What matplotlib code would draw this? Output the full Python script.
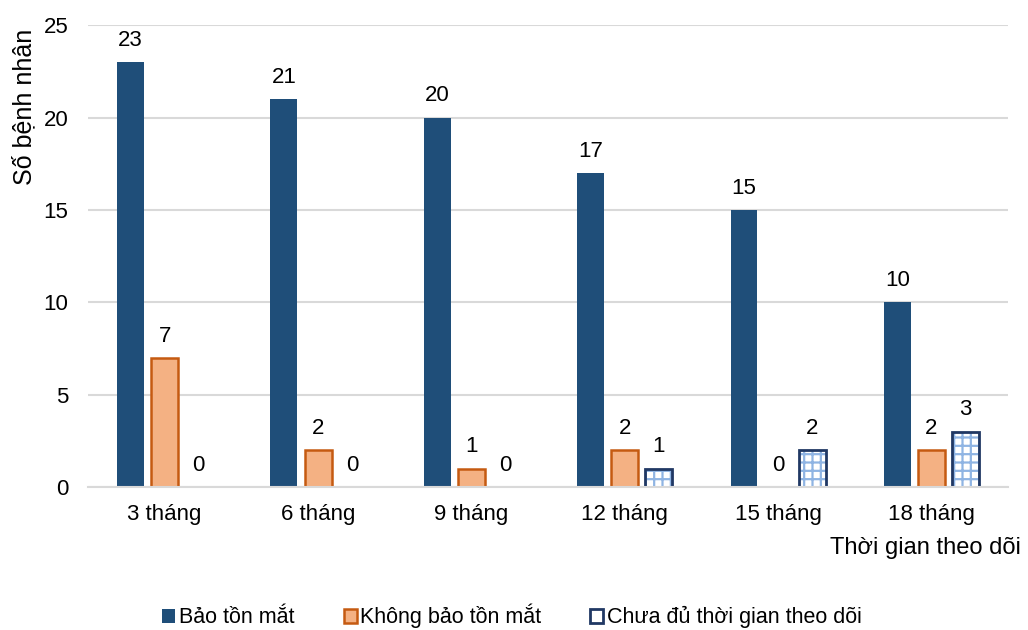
import numpy as np
import matplotlib.pyplot as plt
from matplotlib.patches import Patch

plt.rcParams['font.family'] = ['Liberation Sans', 'DejaVu Sans']

# ----- data ----- #
categories = ["3 tháng", "6 tháng", "9 tháng", "12 tháng", "15 tháng", "18 tháng"]
bao_ton    = [23, 21, 20, 17, 15, 10]
khong_bt   = [7, 2, 1, 2, 0, 2]
chua_du    = [0, 0, 0, 1, 2, 3]
series_names = ["Bảo tồn mắt", "Không bảo tồn mắt", "Chưa đủ thời gian theo dõi"]

navy   = "#1F4E79"
orange = "#F4B183"
orange_edge = "#C55A11"
hatch_blue = "#8FB4E3"
dark_edge  = "#203864"
grid_col   = "#D9D9D9"

fig = plt.figure(figsize=(10.28, 6.3), dpi=100)
ax = fig.add_axes([0.0856, 0.227, 0.895, 0.733])

x = np.arange(len(categories))
w = 0.176
step = 0.222

b1 = ax.bar(x - step, bao_ton, w, color=navy, edgecolor="none", zorder=3)
b2 = ax.bar(x, khong_bt, w, color=orange, edgecolor=orange_edge, linewidth=1.8, zorder=3)
# hatch drawn in light blue, outline drawn on top in dark blue
plt.rcParams['hatch.linewidth'] = 1.6
ax.bar(x + step, chua_du, w, color="white", edgecolor=hatch_blue, hatch="++", linewidth=0, zorder=3)
b3 = ax.bar(x + step, chua_du, w, color="none", edgecolor=dark_edge, linewidth=2.0, zorder=4)

for bars, vals in ((b1, bao_ton), (b2, khong_bt), (b3, chua_du)):
    for rect, v in zip(bars, vals):
        ax.annotate(str(v), (rect.get_x() + rect.get_width() / 2, v),
                    xytext=(0, 8), textcoords="offset points",
                    ha="center", va="bottom", fontsize=16, color="black")

ax.set_ylim(0, 25)
ax.set_xlim(-0.5, len(categories) - 0.5)
ax.set_yticks(range(0, 26, 5))
ax.set_xticks(x)
ax.set_xticklabels(categories)
ax.tick_params(axis="both", length=0, labelsize=16, colors="black")
ax.tick_params(axis="y", pad=14)
ax.tick_params(axis="x", pad=12)
ax.yaxis.grid(True, color=grid_col, linewidth=1.5, zorder=0)
for s in ("top", "right", "left"):
    ax.spines[s].set_visible(False)
ax.spines["bottom"].set_color(grid_col)
ax.spines["bottom"].set_linewidth(1.5)
ax.spines["bottom"].set_zorder(5)

fig.text(0.012, 0.955, "Số bệnh nhân", rotation=90, ha="left", va="top", fontsize=18)
fig.text(0.993, 0.13, "Thời gian theo dõi", ha="right", va="center", fontsize=17)

handles = [
    Patch(facecolor=navy, edgecolor="none"),
    Patch(facecolor=orange, edgecolor=orange_edge, linewidth=1.8),
    Patch(facecolor="white", edgecolor=dark_edge, linewidth=2.0),
]
fig.legend(handles, series_names, loc="center", bbox_to_anchor=(0.498, 0.022),
           ncol=3, frameon=False, fontsize=15.5, handlelength=0.6, handleheight=0.6,
           handletextpad=0.15, columnspacing=2.3)

plt.savefig("out.png", dpi=100)
plt.close()
